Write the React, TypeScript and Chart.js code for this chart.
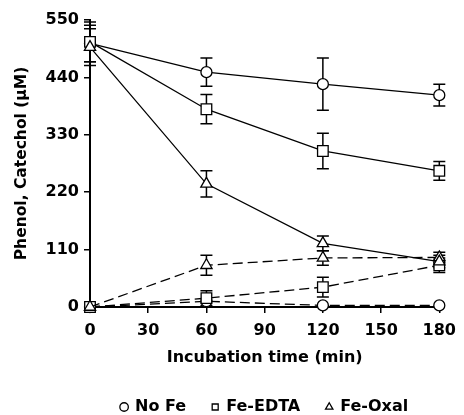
import React, { useEffect, useRef } from "react";
import { Chart, registerables } from "chart.js";

Chart.register(...registerables);

const times = [0, 60, 120, 180];
const yTicks = [0, 110, 220, 330, 440, 550];

const noFePhenol = [505, 450, 427, 406];
const noFePhenolErr = [35, 27, 50, 21];
const edtaPhenol = [508, 379, 299, 261];
const edtaPhenolErr = [38, 28, 34, 18];
const oxalPhenol = [498, 236, 122, 87];
const oxalPhenolErr = [35, 25, 14, 12];

const noFeCatechol = [0, 11, 3, 3];
const noFeCatecholErr = [0, 0, 0, 0];
const edtaCatechol = [0, 17, 38, 80];
const edtaCatecholErr = [0, 14, 19, 14];
const oxalCatechol = [0, 80, 94, 95];
const oxalCatecholErr = [0, 19, 14, 10];

const legendNames = ["No Fe", "Fe-EDTA", "Fe-Oxal"];

const FONT = "'DejaVu Sans', sans-serif";

const errorBarPlugin = {
  id: "errorBars",
  beforeDatasetsDraw(chart: any) {
    const ctx = chart.ctx;
    const ys = chart.scales.y;
    const xs = chart.scales.x;
    ctx.save();
    ctx.strokeStyle = "#000";
    ctx.lineWidth = 1.5;
    chart.data.datasets.forEach((ds: any) => {
      const errs = ds.errors as number[];
      if (!errs) return;
      ds.data.forEach((pt: any, i: number) => {
        const e = errs[i];
        if (!e) return;
        const x = xs.getPixelForValue(pt.x);
        const yT = ys.getPixelForValue(pt.y + e);
        const yB = ys.getPixelForValue(pt.y - e);
        const cap = 6;
        ctx.beginPath();
        ctx.moveTo(x, yT);
        ctx.lineTo(x, yB);
        ctx.moveTo(x - cap, yT);
        ctx.lineTo(x + cap, yT);
        ctx.moveTo(x - cap, yB);
        ctx.lineTo(x + cap, yB);
        ctx.stroke();
      });
    });
    ctx.restore();
  },
};

function mk(label: string, values: number[], errs: number[], style: string, radius: number, dashed: boolean, order: number) {
  return {
    label,
    order,
    data: times.map((t, i) => ({ x: t, y: values[i] })),
    errors: errs,
    borderColor: "#000",
    backgroundColor: "#fff",
    borderWidth: 1.3,
    borderDash: dashed ? [10, 5] : [],
    pointStyle: style,
    pointRadius: radius,
    pointBorderWidth: 1.3,
    pointBackgroundColor: "#fff",
    pointBorderColor: "#000",
    showLine: true,
    fill: false,
    tension: 0,
    clip: false,
    isLegend: !dashed,
  };
}

export default function App() {
  const ref = useRef<HTMLCanvasElement | null>(null);
  useEffect(() => {
    if (!ref.current) return;
    const chart = new Chart(ref.current, {
      type: "scatter",
      data: {
        datasets: [
          mk(legendNames[0] + " cat", noFeCatechol, noFeCatecholErr, "circle", 5.5, true, 5),
          mk(legendNames[1] + " cat", edtaCatechol, edtaCatecholErr, "rect", 7.5, true, 3),
          mk(legendNames[2] + " cat", oxalCatechol, oxalCatecholErr, "triangle", 6.5, true, 1),
          mk(legendNames[0], noFePhenol, noFePhenolErr, "circle", 5.5, false, 4),
          mk(legendNames[1], edtaPhenol, edtaPhenolErr, "rect", 7.5, false, 2),
          mk(legendNames[2], oxalPhenol, oxalPhenolErr, "triangle", 6.5, false, 0),
        ] as any,
      },
      options: {
        responsive: false,
        animation: false,
        layout: { padding: { left: 0, right: 16, top: 20, bottom: -10 } },
        plugins: {
          tooltip: { enabled: false },
          legend: {
            position: "bottom",
            fullSize: false,
            labels: {
              usePointStyle: true,
              boxWidth: 6,
              boxHeight: 6,
              padding: 26,
              color: "#000",
              font: { family: FONT, size: 16, weight: "bold" },
              filter: (item: any, data: any) => data.datasets[item.datasetIndex].isLegend,
              sort: (a: any, b: any) => legendNames.indexOf(a.text) - legendNames.indexOf(b.text),
            },
          },
        },
        scales: {
          x: {
            type: "linear",
            min: 0,
            max: 180,
            afterFit: (s: any) => { s.height = 66; },
            ticks: {
              stepSize: 30,
              color: "#000",
              padding: 8,
              font: { family: FONT, size: 16, weight: "bold" },
            },
            grid: { display: true, drawOnChartArea: false, tickLength: 6, tickColor: "#000", lineWidth: 1.5 },
            border: { display: true, color: "#000", width: 2 },
            title: {
              display: true,
              text: "Incubation time (min)",
              color: "#000",
              font: { family: FONT, size: 16, weight: "bold" },
              padding: { top: 0, bottom: 6 },
            },
          },
          y: {
            type: "linear",
            min: 0,
            max: 550,
            afterFit: (s: any) => { s.width = 90; },
            afterBuildTicks: (s: any) => { s.ticks = yTicks.map((v) => ({ value: v })); },
            ticks: {
              color: "#000",
              padding: 5,
              font: { family: FONT, size: 16, weight: "bold" },
            },
            grid: { display: true, drawOnChartArea: false, tickLength: 6, tickColor: "#000", lineWidth: 1.5 },
            border: { display: true, color: "#000", width: 2 },
            title: {
              display: true,
              text: "Phenol, Catechol (μM)",
              color: "#000",
              font: { family: FONT, size: 15.5, weight: "bold" },
              padding: { top: 13, bottom: 0 },
            },
          },
        },
      } as any,
      plugins: [errorBarPlugin],
    });
    return () => chart.destroy();
  }, []);
  return (
    <div style={{ position: "absolute", left: 0, top: 0, width: 464, height: 415 }}>
      <canvas ref={ref} width={464} height={415} />
    </div>
  );
}
